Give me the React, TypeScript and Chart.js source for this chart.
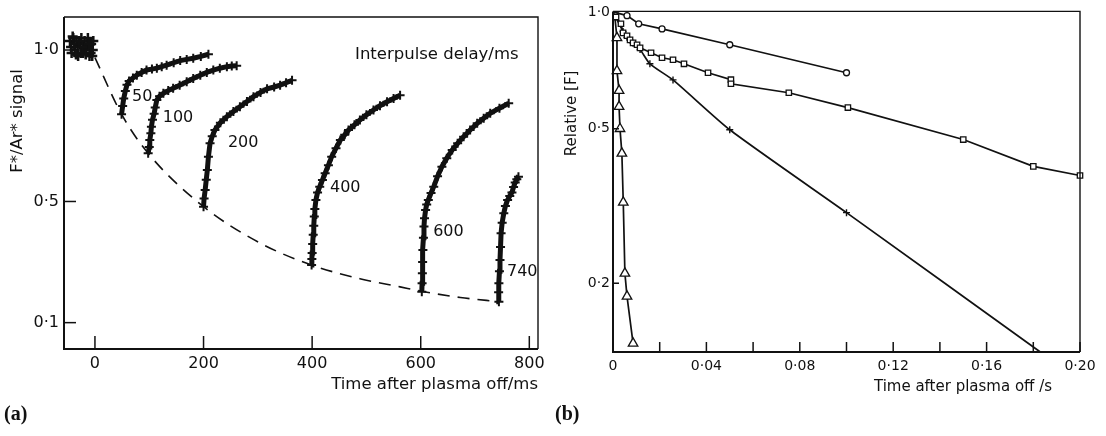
import { useEffect, useRef } from 'react';
import { Chart, registerables } from 'chart.js';

Chart.register(...registerables);

const FONT = '"DejaVu Sans", "Liberation Sans", sans-serif';
const INK = '#111111';

// ---------- panel (a): F*/Ar* signal after the plasma is switched off ----------
const A_X_MIN = -57;
const A_X_MAX = 816;
const A_Y_MIN = 0.013;
const A_Y_MAX = 1.109;
const A_X_TICKS = [0, 200, 400, 600, 800];
const A_Y_TICKS = [0.1, 0.5, 1.0];

// steady-state signal before switch-off
const PRE_T = [-46, -43, -40, -37, -34, -31, -28, -25, -22, -19, -16, -13, -10, -7, -4, -44, -38, -32, -26, -20, -14, -8, -3, -41, -35, -29, -23, -17, -11, -5];
const PRE_V = [1.03, 0.99, 1.04, 1.0, 1.03, 0.98, 1.02, 1.04, 0.99, 1.03, 1.0, 1.04, 0.98, 1.02, 1.0, 1.01, 1.02, 1.01, 0.99, 1.01, 1.02, 0.99, 1.03, 1.045, 0.985, 1.03, 1.01, 0.985, 1.02, 0.98];

// decay envelope (dashed)
const DECAY_T = [0, 49, 98, 200, 304, 399, 488, 562, 603, 673, 745];
const DECAY_V = [0.975, 0.788, 0.659, 0.483, 0.363, 0.29, 0.245, 0.218, 0.203, 0.183, 0.169];

// recovery after the second pulse, one trace per interpulse delay
const DELAYS = [50, 100, 200, 400, 600, 740];

const R50_T = [49, 51, 53, 56, 59, 63, 70, 77, 86, 95, 105, 114, 123, 132, 145, 157, 169, 181, 195, 209];
const R50_V = [0.788, 0.815, 0.84, 0.865, 0.885, 0.898, 0.908, 0.917, 0.926, 0.934, 0.937, 0.94, 0.945, 0.95, 0.958, 0.965, 0.969, 0.973, 0.979, 0.986];

const R100_T = [98, 100, 101, 103, 104, 106, 109, 111, 114, 119, 126, 135, 144, 156, 169, 181, 194, 206, 218, 230, 243, 252, 261];
const R100_V = [0.659, 0.68, 0.703, 0.725, 0.747, 0.77, 0.79, 0.81, 0.835, 0.847, 0.857, 0.866, 0.874, 0.884, 0.895, 0.906, 0.917, 0.926, 0.934, 0.94, 0.945, 0.947, 0.948];

const R200_T = [200, 201, 203, 205, 207, 209, 212, 216, 221, 231, 243, 255, 267, 280, 292, 305, 317, 330, 341, 352, 363];
const R200_V = [0.483, 0.51, 0.538, 0.572, 0.604, 0.648, 0.692, 0.715, 0.736, 0.76, 0.78, 0.797, 0.813, 0.83, 0.846, 0.86, 0.872, 0.878, 0.884, 0.892, 0.9];

const R400_T = [399, 399.5, 400, 401, 402, 403, 404, 405, 407, 410, 414, 419, 424, 430, 436, 444, 452, 460, 467, 478, 488, 500, 513, 525, 538, 550, 562];
const R400_V = [0.29, 0.31, 0.33, 0.36, 0.39, 0.42, 0.45, 0.475, 0.505, 0.53, 0.549, 0.571, 0.593, 0.62, 0.648, 0.676, 0.703, 0.72, 0.736, 0.753, 0.769, 0.786, 0.802, 0.816, 0.829, 0.84, 0.851];

const R600_T = [602, 602.5, 603, 603.5, 604, 605, 606, 607, 609, 611, 614, 619, 624, 631, 639, 648, 658, 668, 679, 691, 704, 716, 728, 745, 762];
const R600_V = [0.202, 0.23, 0.263, 0.3, 0.34, 0.38, 0.417, 0.445, 0.472, 0.49, 0.505, 0.528, 0.549, 0.583, 0.615, 0.643, 0.67, 0.692, 0.714, 0.736, 0.758, 0.775, 0.791, 0.808, 0.824];

const R740_T = [744, 743.5, 744, 745, 746, 747, 748, 750, 753, 756, 760, 764, 768, 771, 774, 777, 780];
const R740_V = [0.169, 0.2, 0.23, 0.27, 0.307, 0.35, 0.395, 0.43, 0.461, 0.485, 0.505, 0.518, 0.53, 0.548, 0.563, 0.573, 0.582];

// where each delay label sits (data units)
const DELAY_LABEL_T = [87, 153, 273, 461, 651, 787];
const DELAY_LABEL_V = [0.845, 0.776, 0.693, 0.545, 0.399, 0.267];

// ---------- panel (b): relative [F] decay ----------
const B_X_MIN = 0;
const B_X_MAX = 0.2;
const B_Y_MIN = 0.133;
const B_Y_MAX = 1.003;
const B_X_TICKS = [0, 0.02, 0.04, 0.06, 0.08, 0.1, 0.12, 0.14, 0.16, 0.18, 0.2];
const B_Y_TICKS = [0.2, 0.5, 1.0];

const CIRC_T = [0, 0.006, 0.011, 0.021, 0.05, 0.1];
const CIRC_V = [1.0, 0.978, 0.932, 0.904, 0.823, 0.697];

const SQ_T = [0.0013, 0.0034, 0.0043, 0.006, 0.0073, 0.0086, 0.0103, 0.0116, 0.0163, 0.021, 0.0257, 0.0304, 0.0407, 0.0505, 0.0505, 0.0753, 0.1006, 0.15, 0.18, 0.2];
const SQ_V = [0.97, 0.932, 0.883, 0.868, 0.847, 0.832, 0.823, 0.808, 0.785, 0.762, 0.753, 0.735, 0.697, 0.669, 0.653, 0.619, 0.567, 0.469, 0.4, 0.379];

const PLUS_T = [0, 0.0043, 0.006, 0.0086, 0.0116, 0.0158, 0.0257, 0.05, 0.1, 0.183];
const PLUS_V = [1.0, 0.89, 0.86, 0.83, 0.8, 0.735, 0.668, 0.497, 0.304, 0.133];

const TRI_T = [0.0008, 0.0017, 0.0017, 0.0026, 0.0026, 0.003, 0.0038, 0.0044, 0.0051, 0.006, 0.0086];
const TRI_V = [0.97, 0.857, 0.705, 0.627, 0.57, 0.5, 0.432, 0.323, 0.212, 0.185, 0.14];

const zip = (xs: number[], ys: number[]) => xs.map((x, i) => ({ x, y: ys[i] }));
const dotLabel = (v: number, digits: number) => (v === 0 ? '0' : v.toFixed(digits).replace('.', '\u00b7'));

function strokeLine(ctx: CanvasRenderingContext2D, x1: number, y1: number, x2: number, y2: number) {
  ctx.beginPath();
  ctx.moveTo(x1, y1);
  ctx.lineTo(x2, y2);
  ctx.stroke();
}

function drawFrame(chart: any, xTicks: number[], yTicks: number[], xLen: number, yLen: number) {
  const { ctx, chartArea: a, scales } = chart;
  ctx.save();
  ctx.strokeStyle = INK;
  ctx.lineWidth = 1.4;
  ctx.beginPath();
  ctx.moveTo(a.left, a.top);
  ctx.lineTo(a.right, a.top);
  ctx.lineTo(a.right, a.bottom);
  ctx.stroke();
  ctx.lineWidth = 2;
  ctx.beginPath();
  ctx.moveTo(a.left, a.top);
  ctx.lineTo(a.left, a.bottom);
  ctx.lineTo(a.right, a.bottom);
  ctx.stroke();
  ctx.lineWidth = 1.5;
  xTicks.forEach((v) => {
    const px = scales.x.getPixelForValue(v);
    strokeLine(ctx, px, a.bottom, px, a.bottom - xLen);
  });
  yTicks.forEach((v) => {
    const py = scales.y.getPixelForValue(v);
    strokeLine(ctx, a.left, py, a.left + yLen, py);
  });
  ctx.restore();
}

const panelAPlugin = {
  id: 'panelADecor',
  afterDatasetsDraw(chart: any) {
    drawFrame(chart, A_X_TICKS, A_Y_TICKS, 13, 12);
    const { ctx, chartArea: a, scales } = chart;
    ctx.save();
    ctx.fillStyle = INK;
    ctx.font = `16px ${FONT}`;
    ctx.textAlign = 'center';
    ctx.textBaseline = 'middle';
    DELAYS.forEach((d, i) => {
      ctx.fillText(String(d), scales.x.getPixelForValue(DELAY_LABEL_T[i]), scales.y.getPixelForValue(DELAY_LABEL_V[i]));
    });
    ctx.font = `16.5px ${FONT}`;
    ctx.textAlign = 'left';
    ctx.fillText('Interpulse delay/ms', scales.x.getPixelForValue(479), scales.y.getPixelForValue(0.983));
    ctx.textAlign = 'right';
    ctx.fillText('Time after plasma off/ms', a.right, a.bottom + 36);
    ctx.translate(a.left - 46, a.top + 104);
    ctx.rotate(-Math.PI / 2);
    ctx.textAlign = 'center';
    ctx.fillText('F*/Ar* signal', 0, 0);
    ctx.restore();
  },
};

const panelBPlugin = {
  id: 'panelBDecor',
  afterDatasetsDraw(chart: any) {
    drawFrame(chart, B_X_TICKS, B_Y_TICKS, 10, 6);
    const { ctx, chartArea: a } = chart;
    ctx.save();
    ctx.fillStyle = INK;
    ctx.font = `15px ${FONT}`;
    ctx.textAlign = 'center';
    ctx.textBaseline = 'middle';
    ctx.fillText('Time after plasma off /s', a.left + 350, a.bottom + 35);
    ctx.translate(a.left - 41, a.top + 102);
    ctx.rotate(-Math.PI / 2);
    ctx.fillText('Relative [F]', 0, 0);
    ctx.restore();
  },
};

const W = 553;
const H = 436;

function recoveryDataset(t: number[], v: number[]) {
  return {
    data: zip(t, v),
    showLine: true,
    borderColor: INK,
    borderWidth: 5,
    tension: 0,
    pointStyle: 'cross',
    pointRadius: 4.5,
    pointBorderWidth: 2,
    pointBorderColor: INK,
  };
}

function baseScale(min: number, max: number, type: string, ticks: number[], size: number, padding: number, fmt: (v: number, i: number) => string, fit: (s: any) => void) {
  return {
    type,
    min,
    max,
    grid: { display: false, drawTicks: false },
    border: { display: false },
    ticks: {
      color: INK,
      font: { family: FONT, size },
      padding,
      autoSkip: false,
      maxRotation: 0,
      callback: (value: any, index: number) => fmt(Number(value), index),
    },
    afterBuildTicks: (scale: any) => {
      scale.ticks = ticks.map((value) => ({ value }));
    },
    afterFit: fit,
  };
}

export default function App() {
  const refA = useRef<HTMLCanvasElement>(null);
  const refB = useRef<HTMLCanvasElement>(null);

  useEffect(() => {
    const chartA = new Chart(refA.current as HTMLCanvasElement, {
      type: 'scatter',
      data: {
        datasets: [
          {
            data: zip(PRE_T, PRE_V),
            showLine: false,
            pointStyle: 'cross',
            pointRadius: 5,
            pointBorderWidth: 2.5,
            pointBorderColor: INK,
          },
          {
            data: zip(DECAY_T, DECAY_V),
            showLine: true,
            borderColor: INK,
            borderWidth: 1.6,
            borderDash: [12, 8],
            pointRadius: 0,
            tension: 0.4,
            cubicInterpolationMode: 'monotone',
          },
          recoveryDataset(R50_T, R50_V),
          recoveryDataset(R100_T, R100_V),
          recoveryDataset(R200_T, R200_V),
          recoveryDataset(R400_T, R400_V),
          recoveryDataset(R600_T, R600_V),
          recoveryDataset(R740_T, R740_V),
        ] as any,
      },
      options: {
        animation: false,
        responsive: false,
        layout: { padding: { left: 0, right: W - 538, top: 17, bottom: 0 } },
        plugins: { legend: { display: false }, tooltip: { enabled: false } },
        scales: {
          x: baseScale(A_X_MIN, A_X_MAX, 'linear', A_X_TICKS, 16, 5, (v) => String(v), (s) => { s.height = H - 349; }),
          y: baseScale(A_Y_MIN, A_Y_MAX, 'linear', A_Y_TICKS, 16, 5, (v) => dotLabel(v, 1), (s) => { s.width = 64; }),
        } as any,
      },
      plugins: [panelAPlugin],
    });

    const chartB = new Chart(refB.current as HTMLCanvasElement, {
      type: 'scatter',
      data: {
        datasets: [
          {
            data: zip(CIRC_T, CIRC_V),
            showLine: true,
            borderColor: INK,
            borderWidth: 1.7,
            pointStyle: 'circle',
            pointRadius: CIRC_T.map((_, i) => (i === 0 ? 0 : 3)),
            pointBorderWidth: 1.3,
            pointBorderColor: INK,
            pointBackgroundColor: '#ffffff',
            clip: false,
          },
          {
            data: zip(SQ_T, SQ_V),
            showLine: true,
            borderColor: INK,
            borderWidth: 1.7,
            pointStyle: 'rect',
            pointRadius: 3.8,
            pointBorderWidth: 1.3,
            pointBorderColor: INK,
            pointBackgroundColor: '#ffffff',
            clip: false,
          },
          {
            data: zip(PLUS_T, PLUS_V),
            showLine: true,
            borderColor: INK,
            borderWidth: 1.7,
            tension: 0.2,
            pointStyle: 'cross',
            pointRadius: PLUS_T.map((_, i) => (i === 0 || i === PLUS_T.length - 1 ? 0 : 3.5)),
            pointBorderWidth: 1.4,
            pointBorderColor: INK,
            clip: false,
          },
          {
            data: zip(TRI_T, TRI_V),
            showLine: true,
            borderColor: INK,
            borderWidth: 1.7,
            pointStyle: 'triangle',
            pointRadius: TRI_T.map((_, i) => (i === 0 ? 0 : 5.5)),
            pointBorderWidth: 1.3,
            pointBorderColor: INK,
            pointBackgroundColor: '#ffffff',
            clip: false,
          },
        ] as any,
      },
      options: {
        animation: false,
        responsive: false,
        layout: { padding: { left: 0, right: W - (1080 - 553), top: 11, bottom: 0 } },
        plugins: { legend: { display: false }, tooltip: { enabled: false } },
        scales: {
          x: baseScale(B_X_MIN, B_X_MAX, 'linear', B_X_TICKS, 14, 6, (v, i) => (i % 2 === 0 ? dotLabel(v, 2) : ''), (s) => { s.height = H - 352; }),
          y: baseScale(B_Y_MIN, B_Y_MAX, 'logarithmic', B_Y_TICKS, 14, 3, (v) => dotLabel(v, 1), (s) => { s.width = 613 - 553; }),
        } as any,
      },
      plugins: [panelBPlugin],
    });

    return () => {
      chartA.destroy();
      chartB.destroy();
    };
  }, []);

  const panelLabel = {
    position: 'absolute' as const,
    top: 401,
    fontFamily: '"Liberation Serif", "DejaVu Serif", serif',
    fontWeight: 700,
    fontSize: 20,
    lineHeight: '24px',
    color: INK,
  };

  return (
    <div style={{ position: 'absolute', left: 0, top: 0, width: 1106, height: H, background: '#ffffff', overflow: 'hidden' }}>
      <canvas ref={refA} width={W} height={H} style={{ position: 'absolute', left: 0, top: 0, width: W, height: H }} />
      <canvas ref={refB} width={W} height={H} style={{ position: 'absolute', left: W, top: 0, width: W, height: H }} />
      <div style={{ ...panelLabel, left: 4 }}>(a)</div>
      <div style={{ ...panelLabel, left: 555 }}>(b)</div>
    </div>
  );
}
